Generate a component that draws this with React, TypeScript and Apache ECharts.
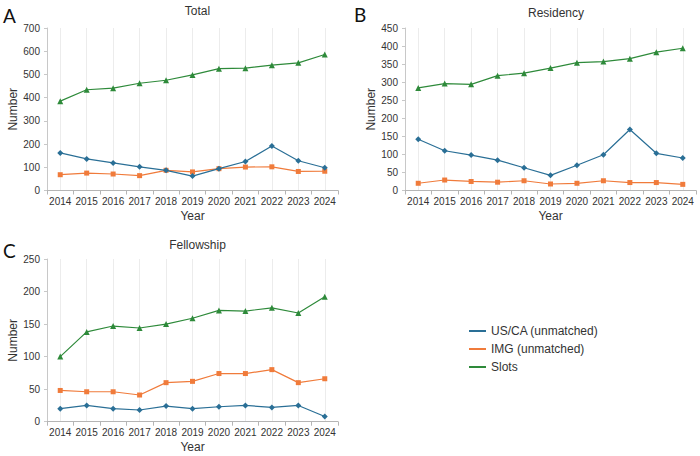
import React, { useEffect, useRef } from "react";
import * as echarts from "echarts";

const years = ["2014", "2015", "2016", "2017", "2018", "2019", "2020", "2021", "2022", "2023", "2024"];
const seriesNames = ["US/CA (unmatched)", "IMG (unmatched)", "Slots"];

const totalUSCA = [162, 136, 119, 102, 87, 62, 94, 125, 192, 128, 98];
const totalIMG = [68, 75, 71, 64, 87, 80, 94, 101, 102, 82, 83];
const totalSlots = [385, 434, 441, 462, 475, 498, 525, 527, 540, 550, 586];

const resUSCA = [142, 110, 98, 84, 63, 42, 70, 99, 169, 103, 90];
const resIMG = [20, 29, 25, 23, 27, 18, 20, 27, 22, 22, 17];
const resSlots = [284, 296, 294, 318, 325, 339, 354, 357, 365, 383, 394];

const felUSCA = [20, 25, 20, 18, 24, 20, 23, 25, 22, 25, 8];
const felIMG = [48, 46, 46, 41, 60, 62, 74, 74, 80, 60, 66];
const felSlots = [100, 138, 147, 144, 150, 159, 171, 170, 175, 167, 192];

const panelTitles = ["Total", "Residency", "Fellowship"];
const panelLetters = ["A", "B", "C"];
const yMax = [700, 450, 250];
const yStep = [100, 50, 50];

const COLORS = ["#2a6f96", "#f07b3b", "#2e8a3a"];
const SYMBOLS = ["diamond", "rect", "triangle"];
const SYMBOL_SIZES = [6, 5, 6];

const FONT = "Arial";

export default function App() {
  const ref = useRef<HTMLDivElement>(null);

  useEffect(() => {
    if (!ref.current) return;
    const chart = echarts.init(ref.current, null, { renderer: "svg" });

    const grids = [
      { left: 47, top: 28, width: 291, height: 162.5 },
      { left: 405, top: 28, width: 291, height: 162.5 },
      { left: 47, top: 259, width: 291, height: 162.7 },
    ];
    const panelData = [
      [totalUSCA, totalIMG, totalSlots],
      [resUSCA, resIMG, resSlots],
      [felUSCA, felIMG, felSlots],
    ];

    const xAxis = grids.map((_, i) => ({
      type: "category",
      gridIndex: i,
      data: years,
      boundaryGap: true,
      name: "Year",
      nameLocation: "middle",
      nameGap: 19,
      nameTextStyle: { fontFamily: FONT, fontSize: 12, color: "#333" },
      axisLine: { show: true, lineStyle: { color: "#b5b5b5", width: 1 } },
      axisTick: { show: true, length: 4, lineStyle: { color: "#b5b5b5" } },
      axisLabel: { fontFamily: FONT, fontSize: 10, color: "#333", margin: 6, interval: 0 },
      splitLine: { show: true, alignWithLabel: true, lineStyle: { color: "#ececec", width: 1 } },
    }));

    const yAxis = grids.map((_, i) => ({
      type: "value",
      gridIndex: i,
      min: 0,
      max: yMax[i],
      interval: yStep[i],
      name: "Number",
      nameLocation: "middle",
      nameGap: 27,
      nameTextStyle: { fontFamily: FONT, fontSize: 12, color: "#333" },
      axisLine: { show: true, lineStyle: { color: "#c8c8c8", width: 1 } },
      axisTick: { show: true, length: 3, lineStyle: { color: "#c8c8c8" } },
      axisLabel: { fontFamily: FONT, fontSize: 10, color: "#333", margin: 7 },
      splitLine: { show: false },
    }));

    const series: any[] = [];
    panelData.forEach((group, gi) => {
      group.forEach((vals, si) => {
        series.push({
          type: "line",
          name: seriesNames[si],
          xAxisIndex: gi,
          yAxisIndex: gi,
          data: vals,
          symbol: SYMBOLS[si],
          symbolSize: SYMBOL_SIZES[si],
          showSymbol: true,
          lineStyle: { color: COLORS[si], width: 1.2 },
          itemStyle: { color: COLORS[si] },
          emphasis: { disabled: true },
          z: si === 0 ? 4 : 3,
        });
      });
    });

    const titleCenters = [
      { x: 192.5, y: 0 },
      { x: 551, y: 2 },
      { x: 192.5, y: 234 },
    ];

    const title = panelTitles.map((t, i) => ({
      text: t,
      left: titleCenters[i].x,
      top: titleCenters[i].y,
      textAlign: "center",
      textStyle: { fontFamily: FONT, fontSize: 12, fontWeight: "normal", color: "#333" },
    }));

    const letterPos = [
      { x: 3, y: 15 },
      { x: 354, y: 14 },
      { x: 3, y: 250 },
    ];

    const graphic = panelLetters.map((l, i) => ({
      type: "text",
      x: letterPos[i].x,
      y: letterPos[i].y,
      style: {
        text: l,
        font: `19px Lato, 'DejaVu Sans', sans-serif`,
        fill: "#111",
        textAlign: "left",
        textVerticalAlign: "middle",
      },
    }));

    chart.setOption({
      animation: false,
      color: COLORS,
      title,
      grid: grids,
      xAxis,
      yAxis,
      series,
      graphic,
      legend: {
        orient: "vertical",
        left: 464,
        top: 320,
        data: seriesNames.map((n) => ({ name: n, icon: "rect" })),
        itemWidth: 17,
        itemHeight: 2,
        itemGap: 6,
        textStyle: { fontFamily: FONT, fontSize: 12, color: "#333" },
        selectedMode: false,
      },
    });

    return () => chart.dispose();
  }, []);

  return (
    <div
      ref={ref}
      style={{ position: "fixed", left: 0, top: 0, width: 700, height: 456, background: "#fff" }}
    />
  );
}
